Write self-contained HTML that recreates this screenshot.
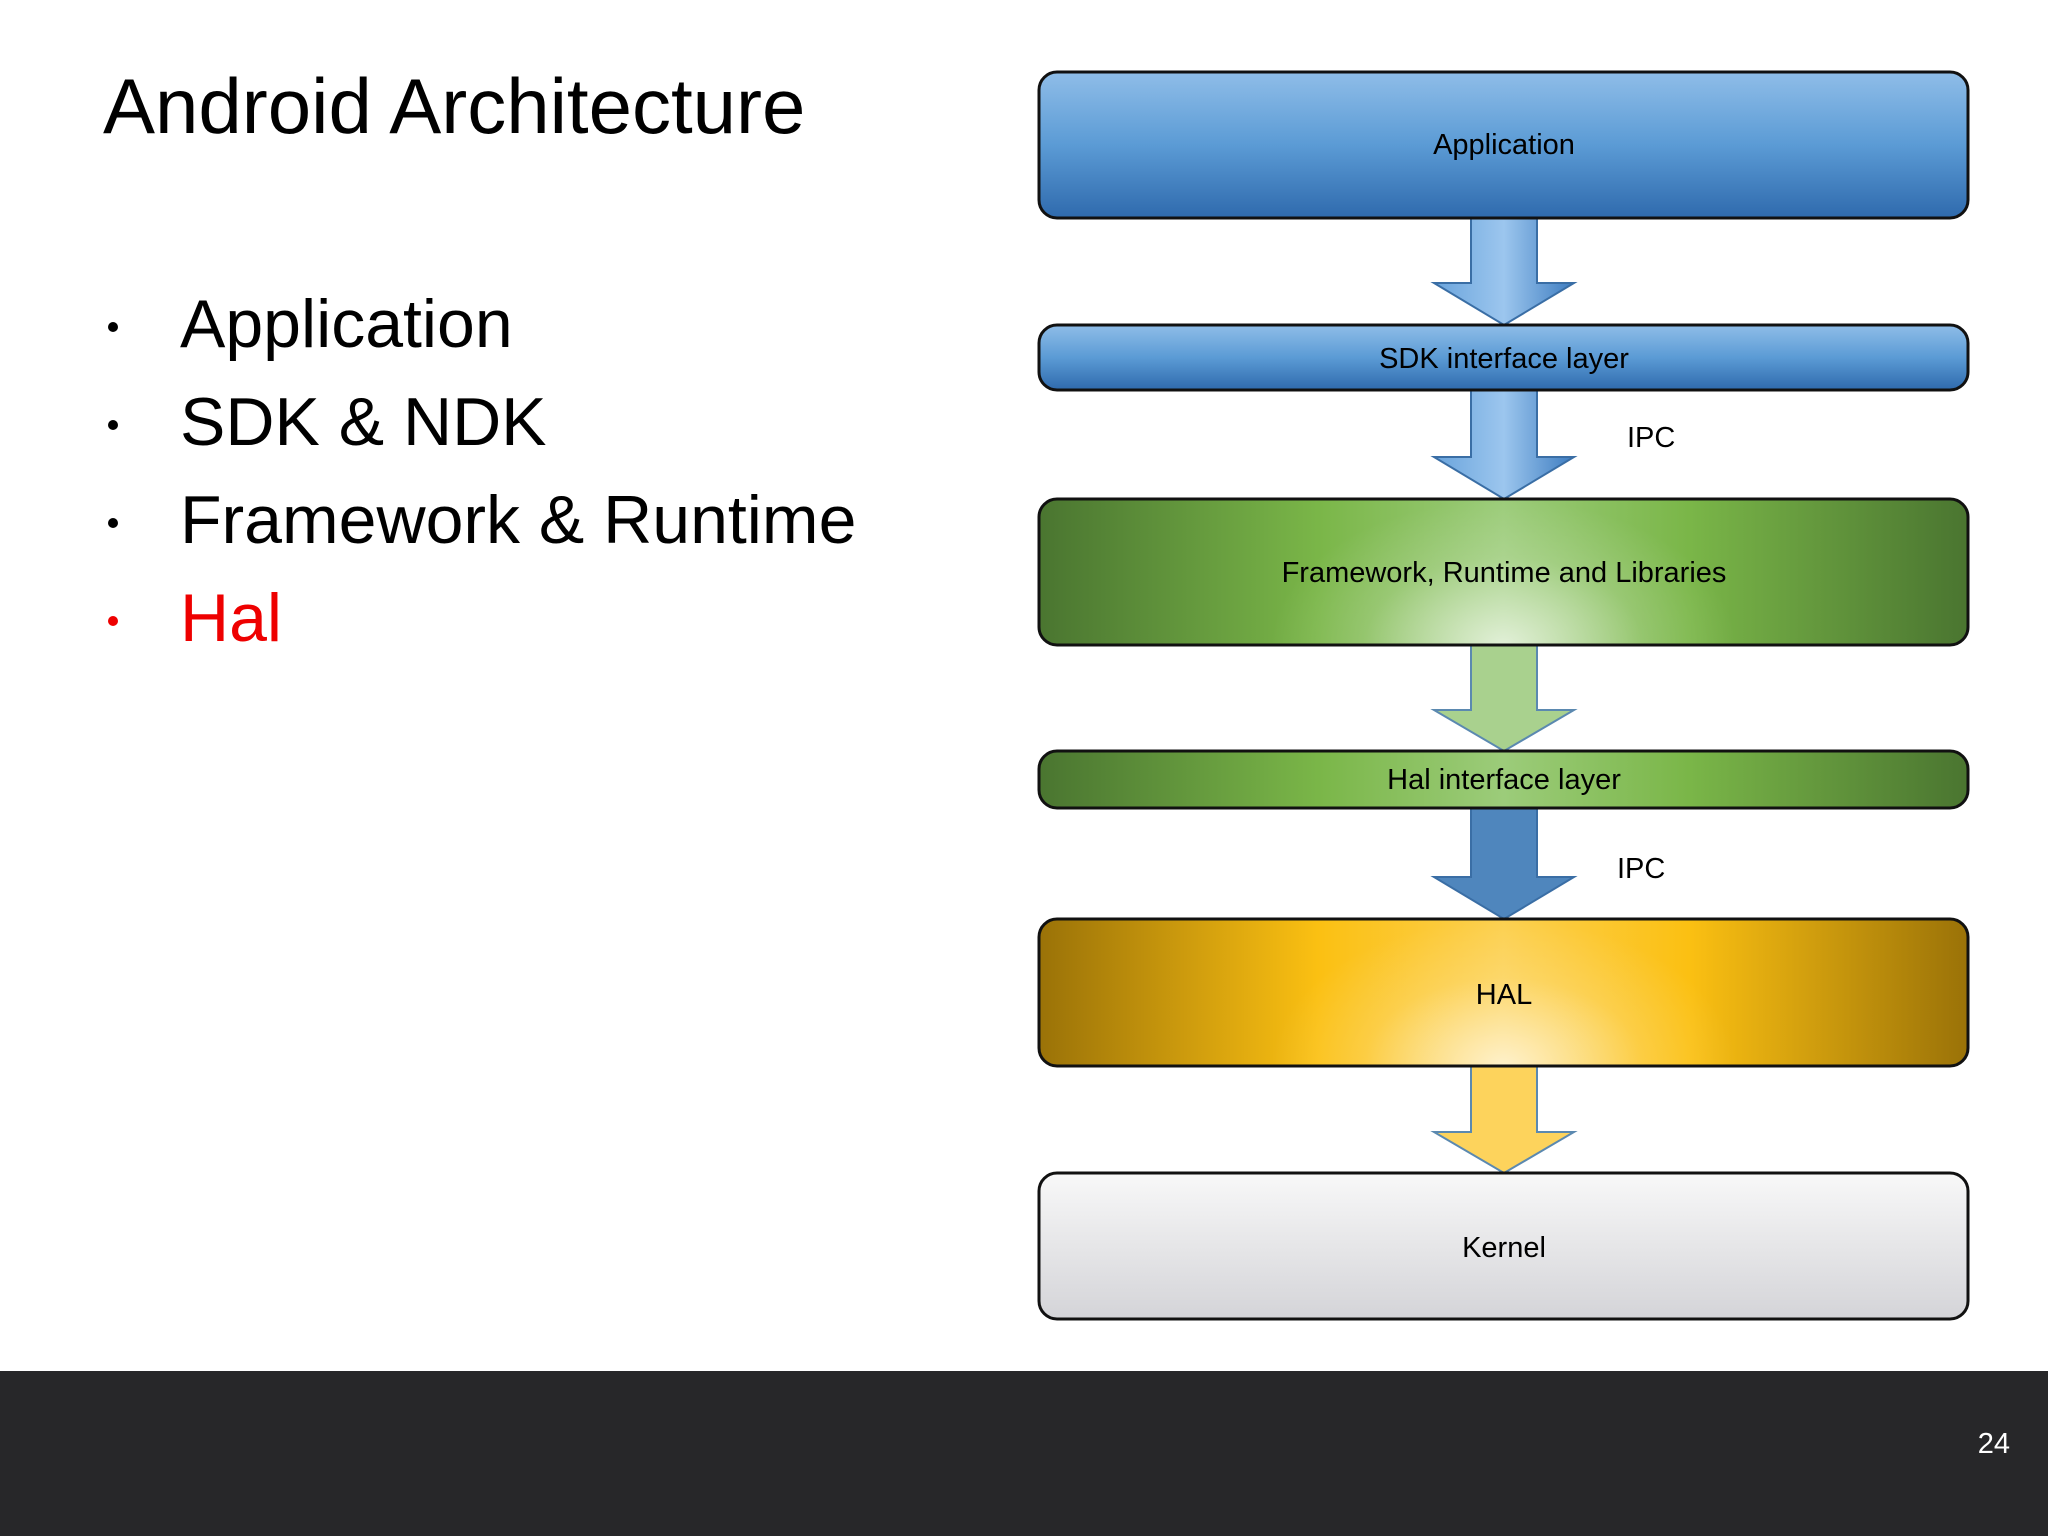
<!DOCTYPE html>
<html><head><meta charset="utf-8"><style>
html,body{margin:0;padding:0;background:#fff;}
svg{display:block;}
text{font-family:"Liberation Sans",sans-serif;}
</style></head><body>
<svg width="2048" height="1536" viewBox="0 0 2048 1536" xmlns="http://www.w3.org/2000/svg">
<defs>
<linearGradient id="blue" x1="0" y1="0" x2="0" y2="1"><stop offset="0" stop-color="#8fbde8"/><stop offset="0.5" stop-color="#5b9bd5"/><stop offset="1" stop-color="#2f6aad"/></linearGradient>
<linearGradient id="greenH" x1="0" y1="0" x2="1" y2="0"><stop offset="0" stop-color="#4a7530"/><stop offset="0.3" stop-color="#7ab648"/><stop offset="0.5" stop-color="#9ccc7a"/><stop offset="0.7" stop-color="#7ab648"/><stop offset="1" stop-color="#4a7530"/></linearGradient>
<linearGradient id="goldH" x1="0" y1="0" x2="1" y2="0"><stop offset="0" stop-color="#9a7208"/><stop offset="0.3" stop-color="#fbc012"/><stop offset="0.5" stop-color="#fcd050"/><stop offset="0.7" stop-color="#fbc012"/><stop offset="1" stop-color="#9a7208"/></linearGradient>
<radialGradient id="glow" cx="0.5" cy="1" r="0.5" gradientTransform="translate(0.5 1) scale(0.5 2) translate(-0.5 -1)"><stop offset="0" stop-color="#fff" stop-opacity="0.7"/><stop offset="0.6" stop-color="#fff" stop-opacity="0.15"/><stop offset="1" stop-color="#fff" stop-opacity="0"/></radialGradient>
<linearGradient id="grey" x1="0" y1="0" x2="0" y2="1"><stop offset="0" stop-color="#f8f8f8"/><stop offset="1" stop-color="#d4d4d8"/></linearGradient>
<linearGradient id="arrB" x1="0" y1="0" x2="1" y2="0"><stop offset="0" stop-color="#6aa4dc"/><stop offset="0.5" stop-color="#9cc6ee"/><stop offset="1" stop-color="#3d7cc0"/></linearGradient>
</defs>
<text x="103" y="133" font-size="78" fill="#000">Android Architecture</text>
<g font-size="68" fill="#000">
<circle cx="113" cy="327" r="5"/><text x="180" y="347">Application</text>
<circle cx="113" cy="425" r="5"/><text x="180" y="445">SDK &amp; NDK</text>
<circle cx="113" cy="523" r="5"/><text x="180" y="543">Framework &amp; Runtime</text>
<circle cx="113" cy="621" r="5" fill="#e00"/><text x="180" y="641" fill="#e00">Hal</text>
</g>
<path d="M1471 216 H1537 V283 H1574 L1504 325 L1434 283 H1471 Z" fill="url(#arrB)" stroke="#3a6ea5" stroke-width="2"/>
<path d="M1471 389 H1537 V457 H1574 L1504 499 L1434 457 H1471 Z" fill="url(#arrB)" stroke="#3a6ea5" stroke-width="2"/>
<path d="M1471 644 H1537 V710 H1574 L1504 751 L1434 710 H1471 Z" fill="#a9d18e" stroke="#5b89b0" stroke-width="2"/>
<path d="M1471 807 H1537 V877 H1574 L1504 919 L1434 877 H1471 Z" fill="#4f86bd" stroke="#3a6ea5" stroke-width="2"/>
<path d="M1471 1065 H1537 V1132 H1574 L1504 1173 L1434 1132 H1471 Z" fill="#fdd35c" stroke="#5b89b0" stroke-width="2"/>
<rect x="1039" y="72" width="929" height="146" rx="18" fill="url(#blue)" stroke="#111" stroke-width="3"/>
<rect x="1039" y="325" width="929" height="65" rx="18" fill="url(#blue)" stroke="#111" stroke-width="3"/>
<rect x="1039" y="499" width="929" height="146" rx="18" fill="url(#greenH)"/>
<rect x="1039" y="499" width="929" height="146" rx="18" fill="url(#glow)" stroke="#111" stroke-width="3"/>
<rect x="1039" y="751" width="929" height="57" rx="18" fill="url(#greenH)" stroke="#111" stroke-width="3"/>
<rect x="1039" y="919" width="929" height="147" rx="18" fill="url(#goldH)"/>
<rect x="1039" y="919" width="929" height="147" rx="18" fill="url(#glow)" stroke="#111" stroke-width="3"/>
<rect x="1039" y="1173" width="929" height="146" rx="18" fill="url(#grey)" stroke="#111" stroke-width="3"/>
<g font-size="29" fill="#000" text-anchor="middle">
<text x="1504" y="154">Application</text>
<text x="1504" y="368">SDK interface layer</text>
<text x="1504" y="582">Framework, Runtime and Libraries</text>
<text x="1504" y="789">Hal interface layer</text>
<text x="1504" y="1004">HAL</text>
<text x="1504" y="1257">Kernel</text>
</g>
<text x="1627" y="447" font-size="29">IPC</text>
<text x="1617" y="878" font-size="29">IPC</text>
<rect x="0" y="1371" width="2048" height="165" fill="#272729"/>
<text x="2010" y="1453" font-size="29" fill="#fff" text-anchor="end">24</text>
</svg>
</body></html>
